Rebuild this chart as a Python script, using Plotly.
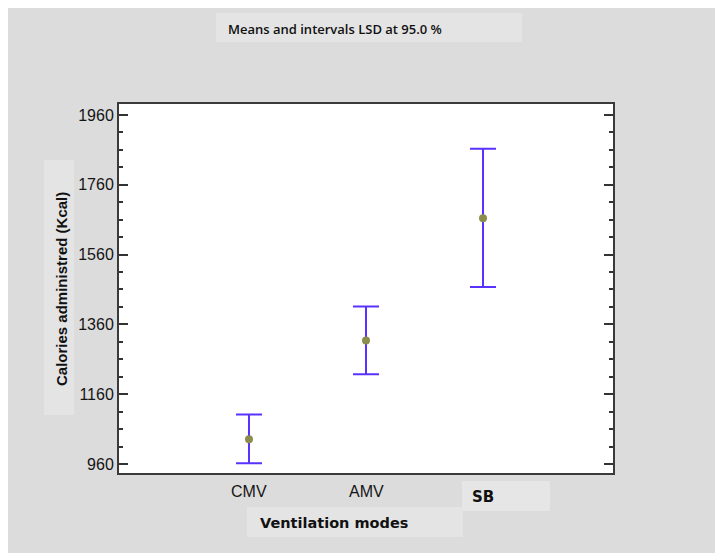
import plotly.graph_objects as go

categories = ["CMV", "AMV", "SB"]
means = [1031, 1314, 1664]
upper = [1102, 1411, 1863]
lower = [962, 1217, 1467]

title_text = "Means and intervals LSD at 95.0 %"
x_title = "Ventilation modes"
y_title = "Calories administred (Kcal)"

xpos = list(range(1, len(categories) + 1))
err_plus = [u - m for u, m in zip(upper, means)]
err_minus = [m - l for m, l in zip(means, lower)]

OFF = 8  # browser body margin
W, H = 723 - OFF, 557 - OFF
L, R, T, B = 119 - OFF, 613 - OFF, 104 - OFF, 473 - OFF

def px(x):  # page pixel -> paper
    return (x - OFF - L) / (R - L)

def py(y):
    return (B - (y - OFF)) / (B - T)

fig = go.Figure()
fig.add_trace(go.Scatter(
    x=xpos, y=means, mode="markers",
    marker=dict(color="#8c8c4c", size=8),
    error_y=dict(type="data", symmetric=False, array=err_plus, arrayminus=err_minus,
                 color="#5a32ff", thickness=2, width=13),
    showlegend=False, hoverinfo="skip",
))

def box(x0, x1, y0, y1, color):
    return dict(type="rect", xref="paper", yref="paper", x0=px(x0), x1=px(x1),
                y0=py(y0), y1=py(y1), fillcolor=color, line=dict(width=0), layer="below")

shapes = [
    box(0, 723, 553, 557, "white"),
    box(216, 522, 13, 42, "#e4e4e4"),
    box(462, 550, 481, 511, "#e6e6e6"),
    box(247, 463, 507, 537, "#e4e4e4"),
    box(44, 74, 160, 415, "#e4e4e4"),
]

annotations = [
    dict(text=title_text, xref="paper", yref="paper", x=px(335), y=py(29),
         showarrow=False, xanchor="center", yanchor="middle",
         font=dict(family="Open Sans", size=13, color="#111", weight=600)),
    dict(text=x_title, xref="paper", yref="paper", x=px(334), y=py(523),
         showarrow=False, xanchor="center", yanchor="middle",
         font=dict(family="DejaVu Sans", size=14.5, color="#111", weight="bold")),
    dict(text=y_title, xref="paper", yref="paper", x=px(61), y=py(289),
         showarrow=False, xanchor="center", yanchor="middle", textangle=-90,
         font=dict(family="Liberation Sans", size=15, color="#111", weight="bold")),
]

for i, c in enumerate(categories):
    if i < len(categories) - 1:
        annotations.append(dict(text=c, x=xpos[i], xref="x", yref="paper", y=py(491),
                                showarrow=False, xanchor="center", yanchor="middle",
                                font=dict(family="Liberation Sans", size=16, color="#151515")))
    else:
        annotations.append(dict(text=c, x=xpos[i], xref="x", yref="paper", y=py(497),
                                showarrow=False, xanchor="center", yanchor="middle",
                                font=dict(family="DejaVu Sans", size=15, color="#111", weight="bold")))

fig.update_layout(
    width=W, height=H,
    margin=dict(l=L, r=W - R, t=T, b=H - B, pad=0),
    paper_bgcolor="#dcdcdc", plot_bgcolor="white",
    shapes=shapes, annotations=annotations,
    xaxis=dict(range=[-0.111, 4.111], showticklabels=False, ticks="", showgrid=False,
               zeroline=False, showline=True, linecolor="#3a3a3a", linewidth=2, mirror=True),
    yaxis=dict(range=[934.2, 1991.5], tick0=960, dtick=200, ticks="inside", ticklen=9,
               tickwidth=2, tickcolor="#333", showgrid=False, zeroline=False,
               showline=True, linecolor="#3a3a3a", linewidth=2, mirror="ticks",
               tickfont=dict(family="Liberation Sans", size=16, color="#151515"),
               minor=dict(dtick=50, tick0=960, ticks="inside", ticklen=4, tickwidth=2,
                          tickcolor="#333", showgrid=False)),
)

fig.write_html("out.html")
